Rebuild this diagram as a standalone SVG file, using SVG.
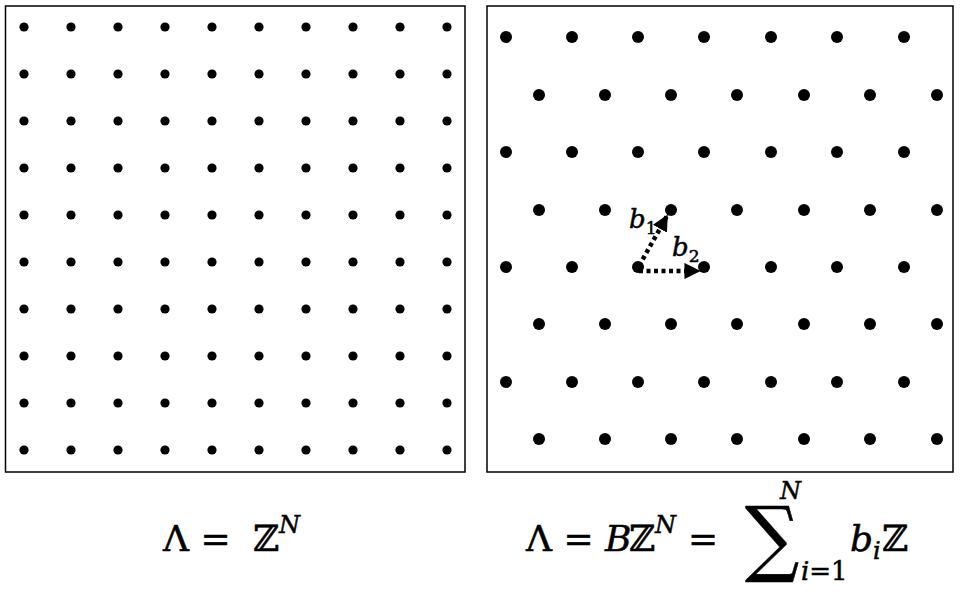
<svg xmlns="http://www.w3.org/2000/svg" width="962" height="596" viewBox="0 0 962 596">
<style>
.frame{fill:#fff;stroke:#000;stroke-width:1.5}
.sd{fill:#000}
.m{font-family:"DejaVu Serif","Liberation Serif",serif;fill:#000;stroke:#000;stroke-width:0.5}
.it{font-style:italic}
.vec{stroke:#000;stroke-width:4.5;stroke-dasharray:4 3.5;fill:none}
</style>
<defs>
<pattern id="sq" x="0" y="3" width="47" height="47" patternUnits="userSpaceOnUse">
<circle cx="24" cy="24" r="4.6" fill="#000"/>
</pattern>
<marker id="ah" viewBox="0 0 10 10" refX="9" refY="5" markerWidth="3.6" markerHeight="3.6" orient="auto" markerUnits="strokeWidth">
<path d="M0,0 L10,5 L0,10 z" fill="#000"/>
</marker>
</defs>
<rect width="962" height="596" fill="#fff"/>
<g id="square-lattice">
<rect class="frame" x="5.5" y="6" width="459.5" height="466"/>
<rect x="0" y="3" width="470" height="470" fill="url(#sq)"/>
</g>
<g id="hex-lattice">
<rect class="frame" x="487" y="6" width="466" height="466"/>
<g class="sd">
<circle cx="506" cy="37" r="6"/><circle cx="572" cy="37" r="6"/><circle cx="638" cy="37" r="6"/><circle cx="704" cy="37" r="6"/><circle cx="771" cy="37" r="6"/><circle cx="837" cy="37" r="6"/><circle cx="904" cy="37" r="6"/>
<circle cx="539" cy="95" r="6"/><circle cx="605" cy="95" r="6"/><circle cx="671" cy="95" r="6"/><circle cx="737" cy="95" r="6"/><circle cx="804" cy="95" r="6"/><circle cx="870" cy="95" r="6"/><circle cx="937" cy="95" r="6"/>
<circle cx="506" cy="152" r="6"/><circle cx="572" cy="152" r="6"/><circle cx="638" cy="152" r="6"/><circle cx="704" cy="152" r="6"/><circle cx="771" cy="152" r="6"/><circle cx="837" cy="152" r="6"/><circle cx="904" cy="152" r="6"/>
<circle cx="539" cy="210" r="6"/><circle cx="605" cy="210" r="6"/><circle cx="671" cy="210" r="6"/><circle cx="737" cy="210" r="6"/><circle cx="804" cy="210" r="6"/><circle cx="870" cy="210" r="6"/><circle cx="937" cy="210" r="6"/>
<circle cx="506" cy="267" r="6"/><circle cx="572" cy="267" r="6"/><circle cx="638" cy="267" r="6"/><circle cx="704" cy="267" r="6"/><circle cx="771" cy="267" r="6"/><circle cx="837" cy="267" r="6"/><circle cx="904" cy="267" r="6"/>
<circle cx="539" cy="324" r="6"/><circle cx="605" cy="324" r="6"/><circle cx="671" cy="324" r="6"/><circle cx="737" cy="324" r="6"/><circle cx="804" cy="324" r="6"/><circle cx="870" cy="324" r="6"/><circle cx="937" cy="324" r="6"/>
<circle cx="506" cy="382" r="6"/><circle cx="572" cy="382" r="6"/><circle cx="638" cy="382" r="6"/><circle cx="704" cy="382" r="6"/><circle cx="771" cy="382" r="6"/><circle cx="837" cy="382" r="6"/><circle cx="904" cy="382" r="6"/>
<circle cx="539" cy="439" r="6"/><circle cx="605" cy="439" r="6"/><circle cx="671" cy="439" r="6"/><circle cx="737" cy="439" r="6"/><circle cx="804" cy="439" r="6"/><circle cx="870" cy="439" r="6"/><circle cx="937" cy="439" r="6"/>
</g>
</g>
<g id="connectors">
<line class="vec" x1="639" y1="266" x2="667" y2="216" marker-end="url(#ah)"/>
<line class="vec" x1="639" y1="271" x2="699" y2="271" marker-end="url(#ah)"/>
</g>
<g id="label-b1">
<text class="m it" x="629" y="228" font-size="26" stroke-width="0.3">b<tspan font-size="17" dy="6" font-style="normal">1</tspan></text>
</g>
<g id="label-b2">
<text class="m it" x="672" y="256" font-size="26" stroke-width="0.3">b<tspan font-size="17" dy="6" font-style="normal">2</tspan></text>
</g>
<g id="formula-left">
<text class="m" x="163" y="551" font-size="36">Λ =</text>
<text class="m" x="253" y="551" font-size="36">ℤ</text>
<text class="m it" x="279" y="533" font-size="24">N</text>
</g>
<g id="formula-right">
<text class="m" x="526" y="551" font-size="36">Λ = <tspan class="it">B</tspan></text>
<text class="m" x="629" y="551" font-size="36">ℤ</text>
<text class="m it" x="655" y="533" font-size="24">N</text>
<text class="m" x="688" y="551" font-size="36">=</text>
<text class="m" font-size="76" stroke-width="0" transform="translate(745,566) scale(1,1.1)">∑</text>
<text class="m it" x="780" y="499" font-size="24">N</text>
<text class="m" x="801" y="580" font-size="26"><tspan class="it">i</tspan>=1</text>
<text class="m it" x="850" y="551" font-size="36">b</text>
<text class="m it" x="873" y="559" font-size="24">i</text>
<text class="m" x="882" y="551" font-size="36">ℤ</text>
</g>
</svg>
